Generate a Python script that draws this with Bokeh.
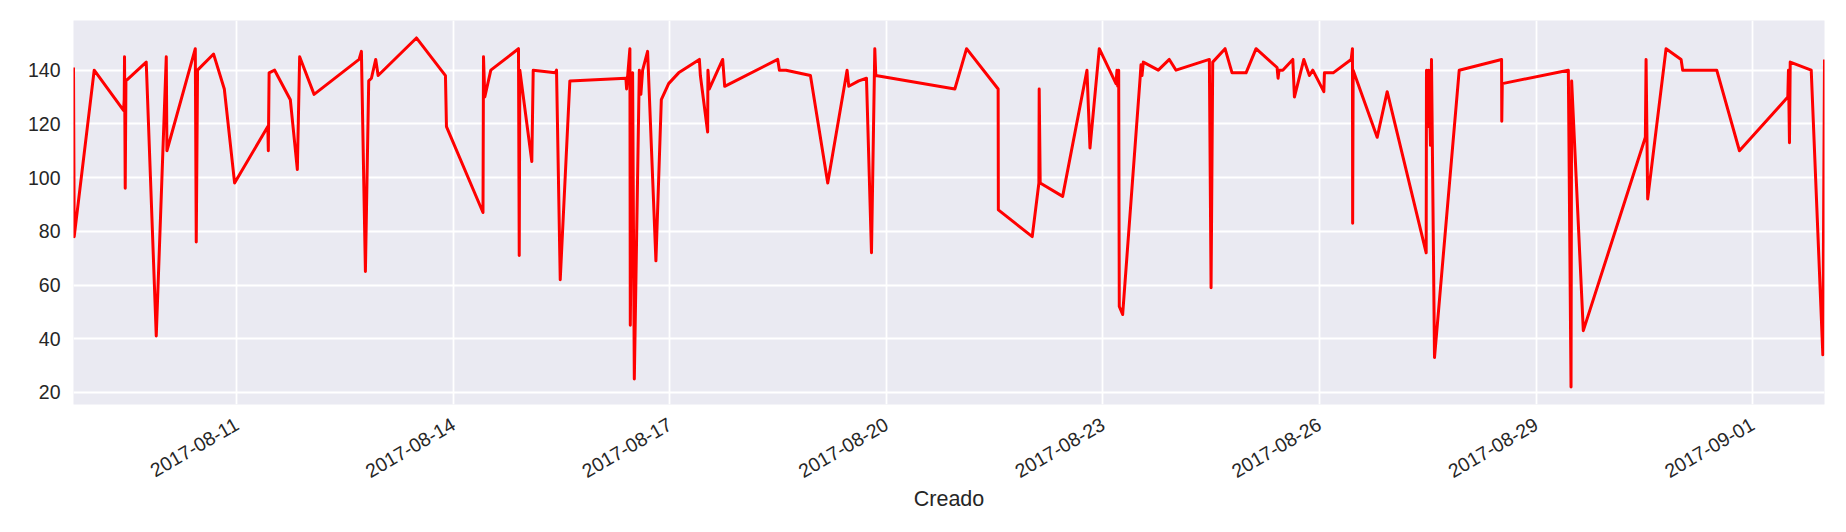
import math
import pandas as pd
from bokeh.plotting import figure
from bokeh.models import ColumnDataSource, Range1d, FixedTicker
from bokeh.embed import file_html
from bokeh.resources import INLINE

# ---- data ----
created = [
    "2017-08-08 17:40", "2017-08-08 17:54", "2017-08-09 00:33", "2017-08-09 10:18", "2017-08-09 10:32",
    "2017-08-09 10:38", "2017-08-09 10:52", "2017-08-09 11:06", "2017-08-09 17:51", "2017-08-09 21:11",
    "2017-08-10 00:31", "2017-08-10 00:44", "2017-08-10 10:10", "2017-08-10 10:29", "2017-08-10 10:55",
    "2017-08-10 16:15", "2017-08-10 19:49", "2017-08-10 23:14", "2017-08-11 10:17", "2017-08-11 10:27",
    "2017-08-11 10:43", "2017-08-11 12:33", "2017-08-11 17:46", "2017-08-11 20:06", "2017-08-11 20:52",
    "2017-08-12 01:40", "2017-08-12 16:38", "2017-08-12 17:24", "2017-08-12 18:44", "2017-08-12 19:50",
    "2017-08-12 20:44", "2017-08-12 22:10", "2017-08-12 22:58", "2017-08-13 11:42", "2017-08-13 21:21",
    "2017-08-13 21:41", "2017-08-14 09:50", "2017-08-14 10:00", "2017-08-14 10:26", "2017-08-14 12:26",
    "2017-08-14 21:38", "2017-08-14 21:53", "2017-08-14 22:05", "2017-08-15 02:04", "2017-08-15 02:32",
    "2017-08-15 09:52", "2017-08-15 10:17", "2017-08-15 11:31", "2017-08-15 14:43", "2017-08-16 09:21",
    "2017-08-16 09:35", "2017-08-16 10:41", "2017-08-16 10:49", "2017-08-16 11:35", "2017-08-16 12:09",
    "2017-08-16 13:49", "2017-08-16 14:20", "2017-08-16 14:55", "2017-08-16 16:34", "2017-08-16 19:20",
    "2017-08-16 21:08", "2017-08-16 23:34", "2017-08-17 02:53", "2017-08-17 09:47", "2017-08-17 10:07",
    "2017-08-17 12:32", "2017-08-17 12:38", "2017-08-17 13:06", "2017-08-17 17:32", "2017-08-17 18:12",
    "2017-08-18 11:50", "2017-08-18 12:24", "2017-08-18 14:36", "2017-08-18 22:43", "2017-08-19 04:28",
    "2017-08-19 10:54", "2017-08-19 11:28", "2017-08-19 14:47", "2017-08-19 17:21", "2017-08-19 19:01",
    "2017-08-19 20:07", "2017-08-19 20:27", "2017-08-20 22:44", "2017-08-21 02:38", "2017-08-21 13:08",
    "2017-08-21 13:12", "2017-08-22 00:28", "2017-08-22 02:41", "2017-08-22 02:47", "2017-08-22 03:07",
    "2017-08-22 10:35", "2017-08-22 18:40", "2017-08-22 19:40", "2017-08-22 22:46", "2017-08-23 04:19",
    "2017-08-23 04:39", "2017-08-23 04:53", "2017-08-23 05:13", "2017-08-23 05:25", "2017-08-23 06:32",
    "2017-08-23 12:24", "2017-08-23 12:38", "2017-08-23 12:58", "2017-08-23 13:24", "2017-08-23 18:23",
    "2017-08-23 22:03", "2017-08-24 00:17", "2017-08-24 11:22", "2017-08-24 11:56", "2017-08-24 12:29",
    "2017-08-24 16:35", "2017-08-24 18:55", "2017-08-24 23:34", "2017-08-25 02:54", "2017-08-25 09:53",
    "2017-08-25 10:13", "2017-08-25 10:33", "2017-08-25 11:47", "2017-08-25 15:07", "2017-08-25 15:39",
    "2017-08-25 18:47", "2017-08-25 20:38", "2017-08-25 21:46", "2017-08-26 01:26", "2017-08-26 01:38",
    "2017-08-26 04:32", "2017-08-26 10:31", "2017-08-26 10:57", "2017-08-26 11:01", "2017-08-26 11:11",
    "2017-08-26 19:10", "2017-08-26 22:30", "2017-08-27 11:28", "2017-08-27 11:34", "2017-08-27 12:08",
    "2017-08-27 12:22", "2017-08-27 12:54", "2017-08-27 13:14", "2017-08-27 14:14", "2017-08-27 22:27",
    "2017-08-28 12:32", "2017-08-28 12:36", "2017-08-28 12:46", "2017-08-29 10:44", "2017-08-29 11:38",
    "2017-08-29 11:50", "2017-08-29 15:43", "2017-08-30 12:21", "2017-08-30 12:35", "2017-08-30 13:07",
    "2017-08-30 19:14", "2017-08-31 00:14", "2017-08-31 00:46", "2017-08-31 12:05", "2017-08-31 19:38",
    "2017-09-01 11:43", "2017-09-01 11:56", "2017-09-01 12:16", "2017-09-01 12:31", "2017-09-01 19:30",
    "2017-09-01 23:22", "2017-09-01 23:55",
]
values = [
    141, 78, 140, 125, 129, 145, 96, 136, 143, 41,
    145, 110, 148, 76, 140, 146, 133, 98, 119, 110,
    139, 140, 129, 103, 145, 131, 144, 147, 65, 136,
    137, 144, 138, 152, 138, 119, 87, 145, 130, 140,
    148, 71, 140, 106, 140, 139, 140, 62, 136, 137,
    133, 148, 45, 139, 25, 140, 131, 140, 147, 69,
    129, 135, 139, 144, 138, 117, 140, 133, 144, 134,
    144, 140, 140, 138, 98, 140, 134, 136, 137, 72,
    148, 138, 133, 148, 133, 88, 78, 98, 133, 98,
    93, 140, 111, 148, 135, 140, 134, 140, 52, 49,
    138, 142, 138, 143, 140, 144, 140, 144, 59, 143,
    148, 139, 139, 148, 141, 137, 140, 140, 144, 130,
    144, 138, 140, 132, 139, 139, 144, 148, 83, 140,
    115, 132, 72, 140, 119, 140, 112, 144, 33, 140,
    144, 121, 135, 140, 22, 136, 43, 115, 144, 92,
    148, 144, 140, 140, 110, 130, 140, 113, 143, 140,
    34, 144,
]
x_tick_labels = ["2017-08-11", "2017-08-14", "2017-08-17", "2017-08-20",
                 "2017-08-23", "2017-08-26", "2017-08-29", "2017-09-01"]
y_ticks = [20, 40, 60, 80, 100, 120, 140]
x_label = "Creado"

# ---- build ----
t = pd.to_datetime(created)
source = ColumnDataSource(data=dict(t=t, v=values))

vmin, vmax = min(values), max(values)
pad = 0.05 * (vmax - vmin)

p = figure(width=1830, height=516, x_axis_type="datetime",
           output_backend="svg", toolbar_location=None,
           x_range=Range1d(t.min(), t.max()),
           y_range=Range1d(vmin - pad, vmax + pad),
           min_border_left=73, min_border_right=6,
           min_border_top=20, min_border_bottom=112)

p.background_fill_color = "#EAEAF2"
p.border_fill_color = "white"
p.outline_line_color = None

tick_ms = [int(pd.Timestamp(s).timestamp() * 1000) for s in x_tick_labels]
p.xaxis.ticker = FixedTicker(ticks=tick_ms)
p.xaxis.major_label_overrides = {ms: s for ms, s in zip(tick_ms, x_tick_labels)}
p.yaxis.ticker = FixedTicker(ticks=y_ticks)

for g in (p.xgrid, p.ygrid):
    g.grid_line_color = "white"
    g.grid_line_width = 1.8

for ax in (p.xaxis, p.yaxis):
    ax.axis_line_color = None
    ax.major_tick_line_color = None
    ax.minor_tick_line_color = None
    ax.major_tick_out = 0
    ax.major_tick_in = 0
    ax.minor_tick_out = 0
    ax.minor_tick_in = 0
    ax.major_label_text_font = "Liberation Sans"
    ax.major_label_text_font_size = "19.5px"
    ax.major_label_text_color = "#262626"
    ax.axis_label_text_font = "Liberation Sans"
    ax.axis_label_text_font_style = "normal"
    ax.axis_label_text_font_size = "21.5px"
    ax.axis_label_text_color = "#262626"

p.yaxis.major_label_standoff = 13
p.xaxis.major_label_orientation = math.pi / 6
p.xaxis.major_label_standoff = 18
p.xaxis.axis_label = x_label
p.xaxis.axis_label_standoff = 0

p.line(x="t", y="v", source=source, line_color="#FF0000", line_width=3.0,
       line_join="round")

open("out.html", "w").write(file_html(p, INLINE))
